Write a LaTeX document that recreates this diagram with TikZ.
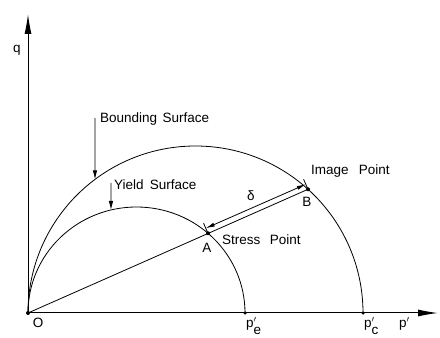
\documentclass[tikz,border=0pt]{standalone}
\usepackage{fontspec}
\setmainfont{Liberation Sans}
\usetikzlibrary{arrows.meta,calc}
\begin{document}
\begin{tikzpicture}[x=1pt,y=1pt,
  curve/.style={line width=0.8pt},
  axisline/.style={line width=1pt,-{Latex[length=20pt,width=7pt]}},
  ptr/.style={line width=0.8pt,-{Latex[length=9pt,width=4.5pt]}},
  dimarrow/.style={line width=0.8pt,{Latex[length=9pt,width=4pt]}-{Latex[length=9pt,width=4pt]}},
  lbl/.style={font=\fontsize{13.5}{16}\selectfont,inner sep=0pt},
  dot/.style={circle,fill=black,inner sep=0pt,minimum size=4pt}]
\useasboundingbox (0,0) rectangle (440,338);
% points
\coordinate (O) at (28,25);
\coordinate (pe) at (245,25);
\coordinate (pc) at (363,25);
\coordinate (xend) at (438,25);
\coordinate (yend) at (28,324);
\coordinate (A) at ({136.5+108.5*cos(48.8)},{25+106*sin(48.8)});
\coordinate (B) at ({195.5+167.5*cos(47.8)},{25+167*sin(47.8)});
\coordinate (bsTip) at ({195.5+167.5*cos(126.87)},{25+167*sin(126.87)});
\coordinate (bsTail) at (95,220);
\coordinate (ysTip) at ({136.5+108.5*cos(103.6)},{25+106*sin(103.6)});
\coordinate (ysTail) at (111,155);
% axes
\draw[axisline] (O) -- (xend);
\draw[axisline] (O) -- (yend);
% surfaces
\draw[curve] (pc) arc[start angle=0,end angle=180,x radius=167.5,y radius=167];
\draw[curve] (pe) arc[start angle=0,end angle=180,x radius=108.5,y radius=106];
% radial line
\draw[curve] (O) -- (B);
% dimension
\coordinate (An) at ($(A)+(-4.4,10)$);
\coordinate (Bn) at ($(B)+(-4.4,10)$);
\coordinate (Ad) at ($(A)!0.5!(An)$);
\coordinate (Bd) at ($(B)!0.5!(Bn)$);
\draw[curve] (A) -- (An);
\draw[curve] (B) -- (Bn);
\draw[dimarrow] (Ad) -- (Bd);
\node[lbl] (delta) at (251,142) {δ};
% pointers
\draw[ptr] (bsTail) -- (bsTip);
\draw[ptr] (ysTail) -- (ysTip);
% dots
\node[dot] (dO) at (O) {};
\node[dot] (dA) at (A) {};
\node[dot] (dB) at (B) {};
\node[dot,minimum size=3.5pt] (dpe) at (pe) {};
\node[dot,minimum size=3.5pt] (dpc) at (pc) {};
% labels
\node[lbl,anchor=base west] (bsl) at (100,215) {Bounding\hspace{0.4em}Surface};
\node[lbl,anchor=base west] (ysl) at (114,148) {Yield\hspace{0.45em}Surface};
\node[lbl,anchor=base west] (spl) at (222,93) {Stress\hspace{0.7em}Point};
\node[lbl,anchor=base west] (ipl) at (311,163) {Image\hspace{0.75em}Point};
\node[lbl] (Al) at (207,90) {A};
\node[lbl] (Bl) at (307,136) {B};
\node[lbl] (Ol) at (38,15) {O};
\node[lbl] (ql) at (17,288) {q};
\node[lbl,anchor=north west] (pel) at (246,21) {p\rlap{$'$}\raisebox{-0.5em}{e}};
\node[lbl,anchor=north west] (pcl) at (364,21) {p\rlap{$'$}\raisebox{-0.5em}{c}};
\node[lbl,anchor=north west] (pl) at (399,21) {p$'$};
\end{tikzpicture}
\end{document}
